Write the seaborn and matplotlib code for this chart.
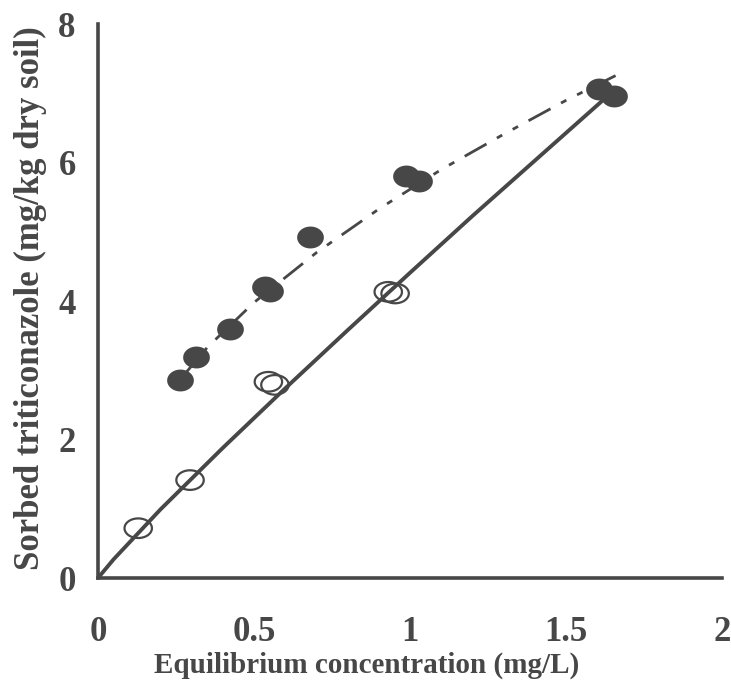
import numpy as np
import pandas as pd
import matplotlib
matplotlib.use("Agg")
import matplotlib.pyplot as plt
from matplotlib.path import Path
from matplotlib.ticker import MultipleLocator
import seaborn as sns

# ---- data ----
open_x = [0.129, 0.295, 0.546, 0.567, 0.930, 0.952]
open_y = [0.72, 1.415, 2.835, 2.79, 4.134, 4.11]

filled_x = [0.263, 0.314, 0.423, 0.535, 0.55, 0.68, 0.987, 1.03, 1.604, 1.652]
filled_y = [2.86, 3.19, 3.60, 4.20, 4.14, 4.92, 5.80, 5.73, 7.06, 6.96]

# fitted isotherm curves
solid_x = [0.0, 0.05, 0.2, 0.4, 0.6, 0.8, 1.0, 1.2, 1.4, 1.63]
solid_y = [0.0, 0.27, 0.99, 1.88, 2.74, 3.58, 4.41, 5.23, 6.03, 6.95]

curve_x = [0.26, 0.35, 0.50, 0.70, 0.90, 1.10, 1.30, 1.50, 1.66]
curve_y = [2.85, 3.33, 3.98, 4.70, 5.33, 5.90, 6.41, 6.90, 7.26]

x_ticks = [0, 0.5, 1, 1.5, 2]
x_ticklabels = ["0", "0.5", "1", "1.5", "2"]
y_ticks = [0, 2, 4, 6, 8]
y_ticklabels = ["0", "2", "4", "6", "8"]

col = "#474747"

sns.set_theme(style="white")
plt.rcParams["font.family"] = ["Liberation Serif", "DejaVu Serif"]
plt.rcParams["font.weight"] = "bold"

fig = plt.figure(figsize=(7.31, 6.89), dpi=100)
ax = fig.add_axes([0.134, 0.161, 0.854, 0.804])

t = np.linspace(0, 2 * np.pi, 60)
ell_filled = Path(np.column_stack([1.22 * np.cos(t), np.sin(t)]), closed=True)
ell_open = Path(np.column_stack([1.4 * np.cos(t), np.sin(t)]), closed=True)

sns.lineplot(x=solid_x, y=solid_y, ax=ax, color=col, lw=2.8, sort=False, zorder=2)
sns.lineplot(x=curve_x, y=curve_y, ax=ax, color=col, lw=2.0, sort=False, zorder=2)
ax.lines[-1].set_dashes([9, 4.3, 2.2, 4.3, 2.2, 4.3])

sns.scatterplot(x=filled_x, y=filled_y, ax=ax, marker=ell_filled, s=370,
                color=col, edgecolor=col, linewidth=0, zorder=3)
sns.scatterplot(x=open_x, y=open_y, ax=ax, marker=ell_open, s=390,
                facecolor="none", edgecolor=col, linewidth=1.6, zorder=3)

ax.set_xlim(0, 2)
ax.set_ylim(0, 8)
ax.set_xticks(x_ticks)
ax.set_xticklabels(x_ticklabels)
ax.set_yticks(y_ticks)
ax.set_yticklabels(y_ticklabels)
ax.xaxis.set_minor_locator(MultipleLocator(0.25))
ax.yaxis.set_minor_locator(MultipleLocator(1))

for s in ["top", "right"]:
    ax.spines[s].set_visible(False)
for s in ["left", "bottom"]:
    ax.spines[s].set_color(col)
    ax.spines[s].set_linewidth(2.6)

ax.tick_params(axis="both", which="major", direction="inout", length=14,
               width=2, color=col, labelsize=25, labelcolor=col)
ax.tick_params(axis="both", which="minor", direction="inout", length=10,
               width=2, color=col)
ax.tick_params(axis="x", which="major", pad=20)
ax.tick_params(axis="y", which="major", pad=9)
for lab in ax.get_xticklabels() + ax.get_yticklabels():
    lab.set_fontweight("bold")

ax.set_xlabel("Equilibrium concentration (mg/L)", fontsize=21,
              fontweight="bold", color=col, labelpad=0)
ax.xaxis.set_label_coords(0.43, -0.133)
ax.set_ylabel("Sorbed triticonazole (mg/kg dry soil)", fontsize=25,
              fontweight="bold", color=col)
ax.yaxis.set_label_coords(-0.082, 0.505)
ax.grid(False)

fig.savefig("out.png", dpi=100)
